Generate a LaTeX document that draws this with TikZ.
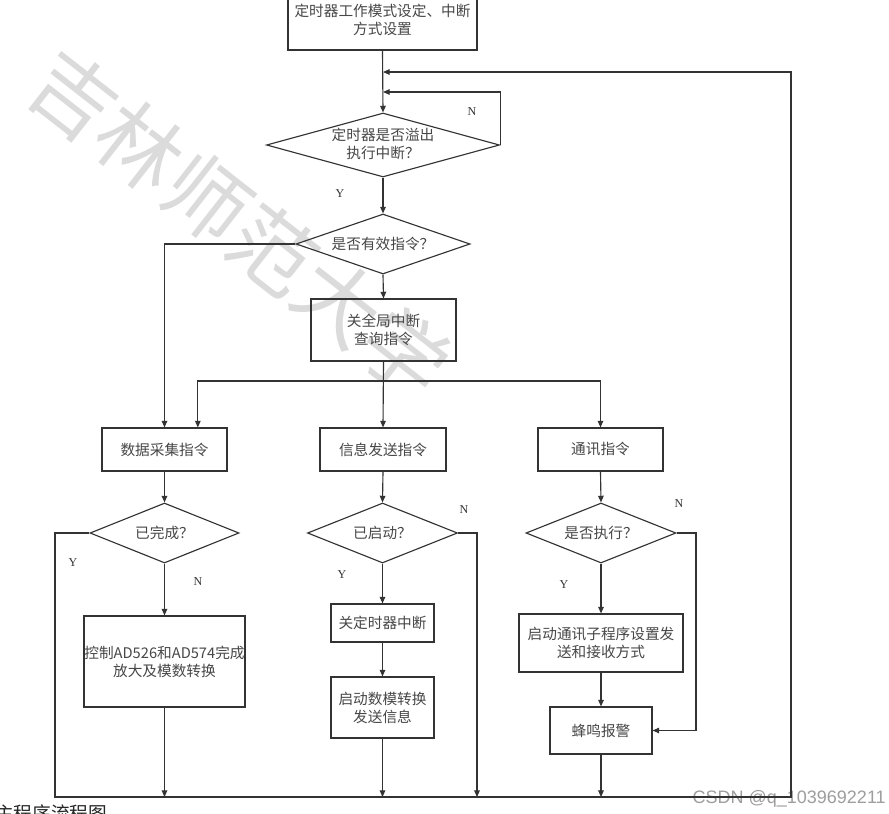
\documentclass[tikz,border=0pt]{standalone}
\usepackage{fontspec}
\setmainfont{Liberation Serif}
\newfontfamily\cjk{Noto Sans CJK SC}
\newfontfamily\wmfont{Liberation Sans}
\usetikzlibrary{arrows.meta,shapes.geometric}
\begin{document}
\begin{tikzpicture}[x=0.75pt,y=-0.75pt,
  line/.style={draw=black!80, line width=0.85pt},
  arr/.style={line, -{Triangle[length=5pt,width=4.2pt]}},
  box/.style={draw=black!80, line width=0.85pt, rectangle, inner sep=0pt, align=center,
    font=\cjk\fontsize{11}{13.5}\selectfont, text=black!72},
  dia/.style={draw=black!80, line width=0.85pt, diamond, inner sep=0pt},
  dtxt/.style={inner sep=0pt, align=center, font=\cjk\fontsize{11}{13.5}\selectfont, text=black!72},
  yn/.style={inner sep=0pt, font=\fontsize{9}{10}\selectfont, text=black!80},
]
\useasboundingbox (0,0) rectangle (889,814);
\clip (0,0) rectangle (889,814);
\fill[white] (0,0) rectangle (889,814);
% watermarks
\node[rotate=-38, font=\cjk\fontsize{63}{63}\selectfont, text=black!14, inner sep=0pt] (wm) at (240,224) {吉林师范大学};
\node[anchor=east, font=\wmfont\fontsize{13.5}{14}\selectfont, text=black!38, inner sep=0pt] (csdn) at (886,799) {CSDN @q\_1039692211};
% caption (partly cut off)
\node[anchor=north west, font=\cjk\fontsize{14}{14}\selectfont, text=black!85, inner sep=0pt] (cap) at (-5,804) {主程序流程图};

% boxes
\node[box, minimum width=189*0.75pt, minimum height=60*0.75pt] (top) at (382.5,20) {定时器工作模式设定、中断\\方式设置};
\node[dia, minimum width=233*0.75pt, minimum height=64*0.75pt] (d1) at (383,145) {};
\node[dtxt] (d1t) at (383,144) {定时器是否溢出\\执行中断？};
\node[dia, minimum width=174*0.75pt, minimum height=60*0.75pt] (d2) at (383,244) {};
\node[dtxt] (d2t) at (383,244) {是否有效指令？};
\node[box, minimum width=145*0.75pt, minimum height=62*0.75pt] (b1) at (383.5,330) {关全局中断\\查询指令};
\node[box, minimum width=125*0.75pt, minimum height=43*0.75pt] (data) at (164.5,449.5) {数据采集指令};
\node[box, minimum width=126*0.75pt, minimum height=43*0.75pt] (info) at (383,449.5) {信息发送指令};
\node[box, minimum width=125*0.75pt, minimum height=43*0.75pt] (comm) at (600.5,449.5) {通讯指令};
\node[dia, minimum width=149*0.75pt, minimum height=60*0.75pt] (dA) at (164.5,533) {};
\node[dtxt] (dAt) at (164.5,533) {已完成？};
\node[dia, minimum width=150*0.75pt, minimum height=60*0.75pt] (dB) at (382.5,533) {};
\node[dtxt] (dBt) at (382.5,533) {已启动？};
\node[dia, minimum width=150*0.75pt, minimum height=60*0.75pt] (dC) at (601,533) {};
\node[dtxt] (dCt) at (601,533) {是否执行？};
\node[box, minimum width=161*0.75pt, minimum height=91*0.75pt] (ctrl) at (164.5,661.5) {控制AD526和AD574完成\\放大及模数转换};
\node[box, minimum width=103*0.75pt, minimum height=38*0.75pt] (toff) at (382.5,623) {关定时器中断};
\node[box, minimum width=103*0.75pt, minimum height=61*0.75pt] (sda) at (382.5,707.5) {启动数模转换\\发送信息};
\node[box, minimum width=164*0.75pt, minimum height=58*0.75pt] (cst) at (601,643) {启动通讯子程序设置发\\送和接收方式};
\node[box, minimum width=102*0.75pt, minimum height=47*0.75pt] (buz) at (601,730.5) {蜂鸣报警};

% junction coordinates
\coordinate (j1) at (383,72);
\coordinate (j2) at (383,92);
\coordinate (bl) at (55,797);
\coordinate (br) at (791,797);
\coordinate (hs) at (383,381);
\coordinate (bN) at (477,797);
\coordinate (cN) at (696,730.5);

% connectors
\draw[arr] (top.south) -- (d1.north);
\draw[arr] (d1.east) |- (j2);
\draw[arr] (dA.west) -| (bl) -- (br) |- (j1);
\draw[arr] (d1.south) -- (d2.north);
\draw[arr] (d2.west) -| (data.north);
\draw[arr] (d2.south) -- (b1.north);
\draw[arr] (b1.south) -- (info.north);
\draw[arr] (hs) -| ([xshift=25pt]data.north);
\draw[arr] (hs) -| (comm.north);
\draw[arr] (data.south) -- (dA.north);
\draw[arr] (info.south) -- (dB.north);
\draw[arr] (comm.south) -- (dC.north);
\draw[arr] (dA.south) -- (ctrl.north);
\draw[arr] (ctrl.south) -- (ctrl.south |- bl);
\draw[arr] (dB.south) -- (toff.north);
\draw[arr] (toff.south) -- (sda.north);
\draw[arr] (sda.south) -- (sda.south |- bl);
\draw[arr] (dB.east) -| (bN);
\draw[arr] (dC.south) -- (cst.north);
\draw[arr] (cst.south) -- (buz.north);
\draw[arr] (buz.south) -- (buz.south |- bl);
\draw[arr] (dC.east) -| (cN) -- (buz.east);

% Y / N labels
\node[yn] (n1) at (472,112) {N};
\node[yn] (y1) at (340,194) {Y};
\node[yn] (yA) at (73,563) {Y};
\node[yn] (nA) at (198,582) {N};
\node[yn] (nB) at (464,510) {N};
\node[yn] (yB) at (342,575) {Y};
\node[yn] (nC) at (679,504) {N};
\node[yn] (yC) at (564,585) {Y};
\end{tikzpicture}
\end{document}
